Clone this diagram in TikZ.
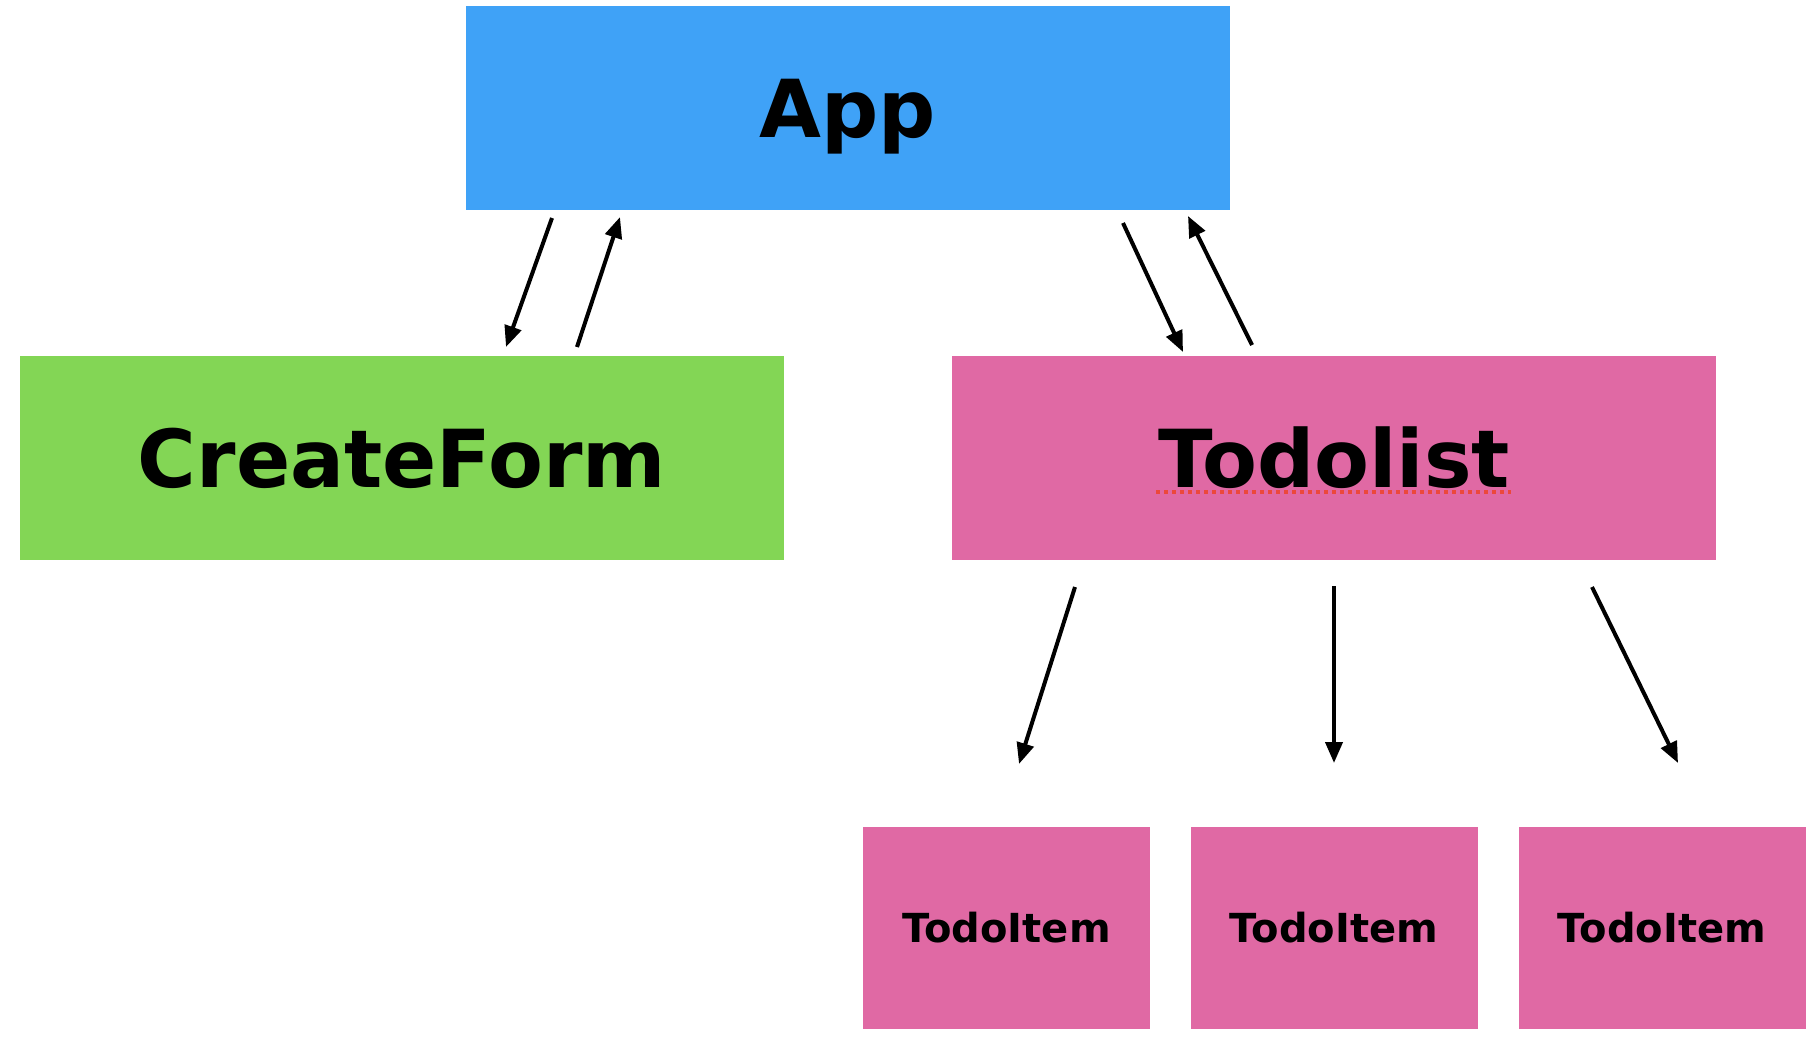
\documentclass[tikz,border=0pt]{standalone}
\usepackage{fontspec}
\setmainfont{DejaVu Sans}
\usetikzlibrary{arrows.meta}
\definecolor{appblue}{RGB}{63,162,247}
\definecolor{formgreen}{RGB}{131,214,85}
\definecolor{listpink}{RGB}{224,105,164}
\definecolor{spellred}{RGB}{236,72,60}
\begin{document}
\begin{tikzpicture}[x=0.5pt,y=-0.5pt,
  box/.style={rectangle,inner sep=0pt,draw=none,align=center,text height=29.2pt,text depth=0pt,font=\bfseries\fontsize{40}{48}\selectfont},
  bigbox/.style={box,minimum width=382pt,minimum height=102pt},
  itembox/.style={box,fill=listpink,minimum width=143.5pt,minimum height=101pt,text height=14.6pt,font=\bfseries\fontsize{20}{24}\selectfont},
  flow/.style={line width=2pt,-{Triangle[length=10.5pt,width=8.5pt]}}]
\useasboundingbox (0,0) rectangle (1820,1038);
\fill[white] (0,0) rectangle (1820,1038);
\node[bigbox,fill=appblue] (app) at (847.5,108) {App};
\node[bigbox,fill=formgreen] (form) at (402,458) {CreateForm};
\node[bigbox,fill=listpink] (list) at (1334,458) {Todolist};
\node[itembox] (item1) at (1006.5,928) {TodoItem};
\node[itembox] (item2) at (1334,928) {TodoItem};
\node[itembox] (item3) at (1662,928) {TodoItem};
% spell-check underline
\coordinate (ul1) at (1156,492);
\coordinate (ul2) at (1511,492);
\draw[spellred,line width=1.6pt,dash pattern=on 2.2pt off 1.8pt] (ul1) -- (ul2);
% connector end points
\coordinate (a1s) at (552,218); \coordinate (a1e) at (506,347);
\coordinate (a2s) at (577,347); \coordinate (a2e) at (620,217);
\coordinate (a3s) at (1123,223); \coordinate (a3e) at (1183,352);
\coordinate (a4s) at (1252,345); \coordinate (a4e) at (1188,216);
\coordinate (a5s) at (1075,587); \coordinate (a5e) at (1019,764);
\coordinate (a6s) at (1334,586); \coordinate (a6e) at (1334,763);
\coordinate (a7s) at (1592,587); \coordinate (a7e) at (1678,763);
\draw[flow] (a1s) -- (a1e);
\draw[flow] (a2s) -- (a2e);
\draw[flow] (a3s) -- (a3e);
\draw[flow] (a4s) -- (a4e);
\draw[flow] (a5s) -- (a5e);
\draw[flow] (a6s) -- (a6e);
\draw[flow] (a7s) -- (a7e);
\end{tikzpicture}
\end{document}
